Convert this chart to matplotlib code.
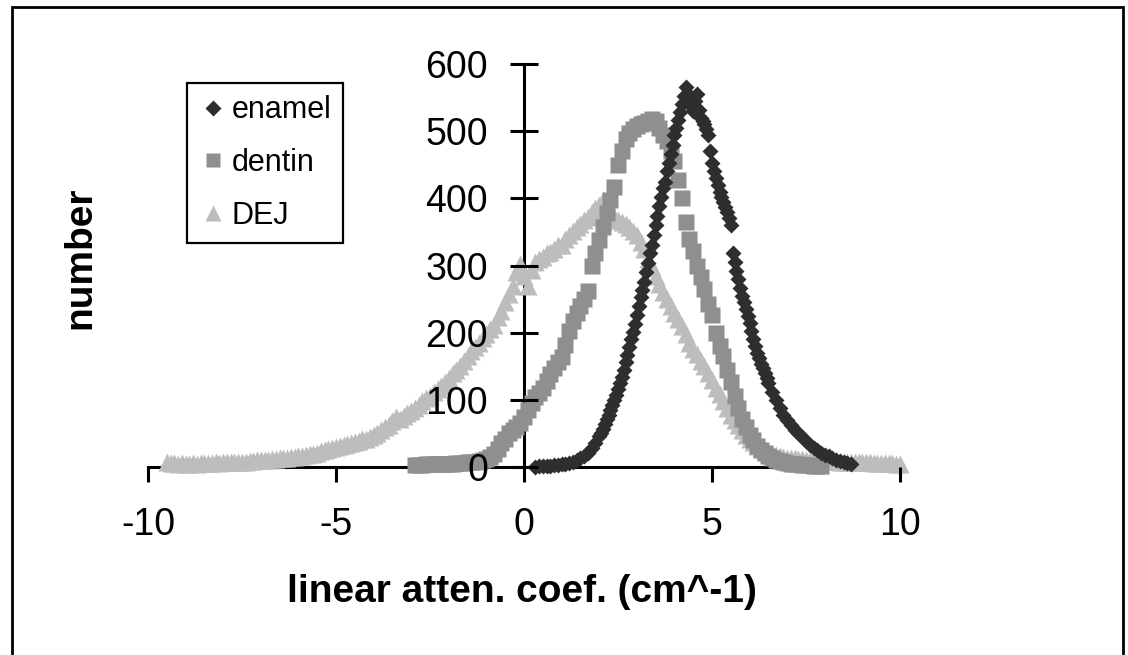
import matplotlib
matplotlib.use("Agg")
import matplotlib.pyplot as plt
from matplotlib.lines import Line2D
from matplotlib.patches import Rectangle

plt.rcParams['font.family'] = ['Liberation Sans', 'DejaVu Sans']
plt.rcParams['axes.unicode_minus'] = False

# histogram of linear attenuation coefficients per tissue
enamel_x = [0.3, 0.4, 0.5, 0.6, 0.7, 0.8, 0.9, 1.0, 1.1, 1.2,
            1.3, 1.4, 1.5, 1.6, 1.7, 1.8, 1.9, 2.0, 2.05, 2.1,
            2.15, 2.2, 2.25, 2.3, 2.35, 2.4, 2.45, 2.5, 2.55, 2.6,
            2.65, 2.7, 2.75, 2.8, 2.85, 2.9, 2.95, 3.0, 3.05, 3.1,
            3.15, 3.2, 3.25, 3.3, 3.35, 3.4, 3.45, 3.5, 3.55, 3.6,
            3.65, 3.7, 3.75, 3.8, 3.85, 3.9, 3.95, 4.0, 4.05, 4.1,
            4.15, 4.2, 4.25, 4.3, 4.35, 4.4, 4.45, 4.5, 4.55, 4.6,
            4.65, 4.7, 4.75, 4.8, 4.85, 4.9, 4.95, 5.0, 5.05, 5.1,
            5.15, 5.2, 5.25, 5.3, 5.35, 5.4, 5.45, 5.5, 5.55, 5.6,
            5.65, 5.7, 5.75, 5.8, 5.85, 5.9, 5.95, 6.0, 6.05, 6.1,
            6.15, 6.2, 6.25, 6.3, 6.35, 6.4, 6.45, 6.5, 6.6, 6.7,
            6.8, 6.9, 7.0, 7.1, 7.2, 7.3, 7.4, 7.5, 7.6, 7.7,
            7.8, 7.9, 8.0, 8.1, 8.2, 8.3, 8.4, 8.5, 8.6, 8.7]
enamel_n = [0, 1, 1, 2, 2, 3, 3, 4, 5, 6,
            8, 10, 13, 16, 21, 28, 36, 46, 51, 57,
            64, 71, 78, 85, 92, 100, 107, 116, 125, 134,
            145, 156, 167, 179, 190, 201, 213, 226, 240, 253,
            264, 276, 290, 304, 318, 331, 345, 360, 373, 388,
            402, 416, 424, 440, 452, 466, 480, 494, 505, 516,
            528, 540, 552, 566, 556, 548, 538, 530, 545, 556,
            532, 520, 515, 510, 503, 494, 470, 452, 440, 430,
            420, 410, 402, 394, 387, 380, 370, 360, 318, 305,
            292, 280, 267, 255, 245, 235, 225, 214, 202, 191,
            180, 170, 162, 154, 147, 140, 132, 125, 112, 100,
            88, 78, 70, 62, 55, 50, 44, 38, 33, 29,
            25, 21, 18, 16, 14, 11, 9, 7, 6, 5]

dentin_x = [-2.9, -2.8, -2.7, -2.6, -2.5, -2.4, -2.3, -2.2, -2.1, -2.0,
            -1.9, -1.8, -1.7, -1.6, -1.5, -1.4, -1.3, -1.2, -1.1, -1.0,
            -0.9, -0.8, -0.7, -0.6, -0.5, -0.4, -0.3, -0.2, -0.1, 0.0,
            0.1, 0.2, 0.3, 0.4, 0.5, 0.6, 0.7, 0.8, 0.9, 1.0,
            1.1, 1.2, 1.3, 1.4, 1.5, 1.6, 1.7, 1.8, 1.9, 2.0,
            2.1, 2.2, 2.3, 2.4, 2.5, 2.6, 2.7, 2.8, 2.9, 3.0,
            3.1, 3.2, 3.3, 3.4, 3.5, 3.6, 3.7, 3.8, 3.9, 4.0,
            4.1, 4.2, 4.3, 4.4, 4.5, 4.6, 4.7, 4.8, 4.9, 5.0,
            5.1, 5.2, 5.3, 5.4, 5.5, 5.6, 5.7, 5.8, 5.9, 6.0,
            6.1, 6.2, 6.3, 6.4, 6.5, 6.6, 6.7, 6.8, 6.9, 7.0,
            7.1, 7.2, 7.3, 7.4, 7.5, 7.6, 7.7, 7.8, 7.9]
dentin_n = [3, 3, 3, 4, 4, 4, 4, 5, 5, 5,
            5, 6, 6, 6, 7, 7, 8, 9, 10, 12,
            15, 20, 27, 35, 42, 50, 55, 60, 66, 75,
            85, 95, 104, 110, 118, 128, 138, 148, 156, 164,
            182, 202, 218, 230, 240, 250, 262, 300, 318, 338,
            358, 378, 398, 417, 450, 470, 488, 497, 503, 507,
            510, 512, 515, 518, 515, 505, 495, 485, 470, 455,
            428, 400, 365, 340, 322, 300, 283, 265, 242, 226,
            200, 180, 165, 145, 126, 106, 88, 72, 60, 48,
            40, 32, 26, 21, 17, 14, 11, 9, 7, 6,
            5, 4, 4, 3, 3, 3, 2, 2, 2]

dej_x = [-9.5, -9.4, -9.3, -9.2, -9.1, -9.0, -8.9, -8.8, -8.7, -8.6,
         -8.5, -8.4, -8.3, -8.2, -8.1, -8.0, -7.9, -7.8, -7.7, -7.6,
         -7.5, -7.4, -7.3, -7.2, -7.1, -7.0, -6.9, -6.8, -6.7, -6.6,
         -6.5, -6.4, -6.3, -6.2, -6.1, -6.0, -5.9, -5.8, -5.7, -5.6,
         -5.5, -5.4, -5.3, -5.2, -5.1, -5.0, -4.9, -4.8, -4.7, -4.6,
         -4.5, -4.4, -4.3, -4.2, -4.1, -4.0, -3.9, -3.8, -3.7, -3.6,
         -3.5, -3.4, -3.3, -3.2, -3.1, -3.0, -2.9, -2.8, -2.7, -2.6,
         -2.5, -2.4, -2.3, -2.2, -2.1, -2.0, -1.9, -1.8, -1.7, -1.6,
         -1.5, -1.4, -1.3, -1.2, -1.1, -1.0, -0.9, -0.8, -0.7, -0.6,
         -0.5, -0.4, -0.3, -0.2, -0.1, 0.0, 0.1, 0.2, 0.3, 0.4,
         0.5, 0.6, 0.7, 0.8, 0.9, 1.0, 1.1, 1.2, 1.3, 1.4,
         1.5, 1.6, 1.7, 1.8, 1.9, 2.0, 2.1, 2.2, 2.3, 2.4,
         2.5, 2.6, 2.7, 2.8, 2.9, 3.0, 3.1, 3.2, 3.3, 3.4,
         3.5, 3.6, 3.7, 3.8, 3.9, 4.0, 4.1, 4.2, 4.3, 4.4,
         4.5, 4.6, 4.7, 4.8, 4.9, 5.0, 5.1, 5.2, 5.3, 5.4,
         5.5, 5.6, 5.7, 5.8, 5.9, 6.0, 6.1, 6.2, 6.3, 6.4,
         6.5, 6.6, 6.7, 6.8, 6.9, 7.0, 7.1, 7.2, 7.3, 7.4,
         7.5, 7.6, 7.7, 7.8, 7.9, 8.0, 8.1, 8.2, 8.3, 8.4,
         8.5, 8.6, 8.7, 8.8, 8.9, 9.0, 9.1, 9.2, 9.3, 9.4,
         9.5, 9.6, 9.7, 9.8, 9.9, 10.0]
dej_n = [8, 6, 6, 5, 6, 5, 5, 6, 5, 6,
         6, 6, 6, 7, 6, 7, 7, 7, 8, 8,
         8, 8, 9, 9, 10, 10, 11, 11, 12, 12,
         13, 13, 14, 15, 15, 16, 17, 18, 19, 20,
         21, 24, 26, 27, 28, 30, 31, 33, 34, 35,
         37, 39, 41, 42, 44, 47, 51, 55, 59, 63,
         68, 75, 72, 76, 80, 83, 88, 92, 98, 102,
         106, 111, 116, 121, 126, 133, 140, 145, 151, 158,
         165, 172, 178, 185, 192, 198, 205, 212, 224, 232,
         245, 258, 270, 290, 302, 285, 270, 294, 305, 310,
         312, 318, 320, 325, 330, 331, 340, 345, 352, 358,
         362, 368, 372, 380, 385, 390, 398, 388, 378, 372,
         368, 365, 362, 358, 352, 345, 335, 325, 310, 298,
         285, 272, 260, 250, 240, 230, 220, 210, 198, 185,
         175, 168, 158, 150, 140, 130, 118, 108, 98, 88,
         78, 70, 62, 55, 48, 42, 37, 32, 28, 25,
         22, 20, 18, 16, 15, 14, 13, 13, 12, 12,
         11, 11, 10, 10, 10, 9, 9, 9, 9, 8,
         8, 8, 8, 7, 7, 7, 7, 7, 6, 6,
         6, 6, 6, 6, 5, 5]

x_ticks = [-10, -5, 0, 5, 10]
y_ticks = [0, 100, 200, 300, 400, 500, 600]

fig = plt.figure(figsize=(11.28, 6.55), dpi=100)
ax = fig.add_axes([148 / 1128, 1 - 467 / 655, 752 / 1128, 403 / 655])

ax.plot(dej_x, dej_n, ls='none', marker='^', ms=13, color='#bdbdbd',
        mec='none', clip_on=False, zorder=3)
ax.plot(dentin_x, dentin_n, ls='none', marker='s', ms=11.5, color='#8f8f8f',
        mec='none', clip_on=False, zorder=4)
ax.plot(enamel_x, enamel_n, ls='none', marker='D', ms=8.5, color='#2e2e2e',
        mec='none', clip_on=False, zorder=5)

ax.set_xlim(-10, 10)
ax.set_ylim(0, 600)
ax.set_xticks(x_ticks)
ax.set_yticks(y_ticks)

# axes cross at the origin
for side in ['top', 'right']:
    ax.spines[side].set_visible(False)
for side in ['left', 'bottom']:
    ax.spines[side].set_position(('data', 0))
    ax.spines[side].set_linewidth(2.2)
    ax.spines[side].set_zorder(2)

# tick labels sit on top of the markers
ax.xaxis.set_zorder(6)
ax.yaxis.set_zorder(6)

ax.tick_params(axis='y', direction='inout', length=20, width=2.2,
               labelsize=27, pad=16)
ax.tick_params(axis='x', direction='out', length=11, width=2.2,
               labelsize=27, pad=18)

ax.set_xlabel('linear atten. coef. (cm^-1)', fontsize=28, fontweight='bold')
ax.xaxis.set_label_coords(0.497, -0.31)
ax.xaxis.label.set_va('center')
ax.set_ylabel('number', fontsize=28, fontweight='bold')
ax.yaxis.set_label_coords(-0.09, 0.52)
ax.yaxis.label.set_va('center')

handles = [
    Line2D([], [], ls='none', marker='D', ms=8, color='#2e2e2e', mec='none'),
    Line2D([], [], ls='none', marker='s', ms=9.5, color='#8f8f8f', mec='none'),
    Line2D([], [], ls='none', marker='^', ms=11, color='#bdbdbd', mec='none'),
]
leg = ax.legend(handles, ['enamel', 'dentin', 'DEJ'], loc='upper left',
                bbox_to_anchor=(187 / 1128, 1 - 83 / 655),
                bbox_transform=fig.transFigure, borderaxespad=0,
                fontsize=22, fancybox=False, framealpha=1, edgecolor='black',
                borderpad=0.4, handlelength=0.9, handletextpad=0.15,
                labelspacing=0.75)
leg.get_frame().set_linewidth(1.6)
leg.set_zorder(7)

# outer border of the chart area
fig.patches.append(Rectangle((12 / 1128, -0.05), 1111 / 1128, 1.05 - 7 / 655,
                             transform=fig.transFigure, fill=False,
                             edgecolor='black', linewidth=2))

fig.savefig('out.png', dpi=100)
